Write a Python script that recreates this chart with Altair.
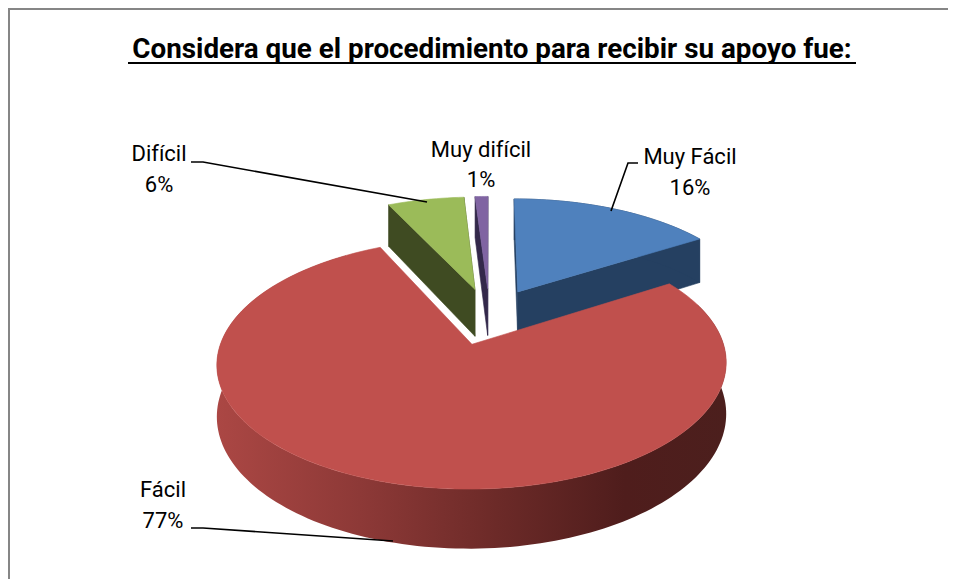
import math
import altair as alt
import pandas as pd

categories = ["Muy Fácil", "Fácil", "Difícil", "Muy difícil"]
shares = [16, 77, 6, 1]
labels_pct = ["16%", "77%", "6%", "1%"]
title_text = "Considera que el procedimiento para recibir su apoyo fue:"
caption_text = "Considera que el procedimiento para recibir su apoyo fue:"

# view of the tilted disc (a perspective projection of the pie)
CX, CY, RX, RY, PERSP, EXPLODE, DEPTH = 489.5, 316.0, 242.5, 113.6, 0.15, 0.25, 48.5
X_DOM = [8, 948]
Y_DOM = [579, 8]
FONT = "Roboto"

total = sum(shares)
spans = {}
a0 = 0.0
for c, s in zip(categories, shares):
    spans[c] = (a0, a0 + s / total * 360.0)
    a0 += s / total * 360.0


def project(cat, deg, radius=1.0, down=0.0):
    start, end = spans[cat]
    b = math.radians((start + end) / 2)
    t = math.radians(deg)
    u = radius * math.sin(t) + EXPLODE * math.sin(b)
    v = radius * math.cos(t) + EXPLODE * math.cos(b)
    w = 1 + PERSP * v
    return CX + RX * u / w, CY - RY * v / w + down / w


def arc(cat, down=0.0, reverse=False, a=None, b=None):
    s, e = spans[cat]
    s = s if a is None else a
    e = e if b is None else b
    n = max(4, int((e - s) / 1.5))
    degs = [s + (e - s) * i / n for i in range(n + 1)]
    if reverse:
        degs = degs[::-1]
    return [project(cat, d, 1.0, down) for d in degs]


x_scale = alt.Scale(domain=X_DOM, nice=False, zero=False)
y_scale = alt.Scale(domain=Y_DOM, nice=False, zero=False)


def polygon(points, fill, sw=0.6, stroke=None):
    df = pd.DataFrame({"x": [p[0] for p in points], "y": [p[1] for p in points],
                       "i": list(range(len(points)))})
    return alt.Chart(df).mark_line(
        interpolate="linear-closed", fill=fill, stroke=stroke or (fill if isinstance(fill, str) else "#6b2a28"),
        strokeWidth=sw,
    ).encode(
        x=alt.X("x:Q", scale=x_scale, axis=None),
        y=alt.Y("y:Q", scale=y_scale, axis=None),
        order=alt.Order("i:Q"),
    )


def radial_side(cat, deg, fill):
    return polygon([
        project(cat, deg, 0.0), project(cat, deg, 1.0),
        project(cat, deg, 1.0, DEPTH), project(cat, deg, 0.0, DEPTH),
    ], fill)


def top(cat, fill):
    return polygon([project(cat, 0, 0.0)] + arc(cat), fill)


def polyline(points, color="#000000", width=1.6):
    df = pd.DataFrame({"x": [p[0] for p in points], "y": [p[1] for p in points],
                       "i": list(range(len(points)))})
    return alt.Chart(df).mark_line(color=color, strokeWidth=width).encode(
        x=alt.X("x:Q", scale=x_scale, axis=None),
        y=alt.Y("y:Q", scale=y_scale, axis=None),
        order=alt.Order("i:Q"),
    )


def text(s, x, y, size, bold=False, font=FONT, align="center"):
    df = pd.DataFrame({"x": [x], "y": [y], "t": [s]})
    return alt.Chart(df).mark_text(
        font=font, fontSize=size, fontWeight="bold" if bold else "normal",
        align=align, baseline="middle", color="#000000",
    ).encode(
        x=alt.X("x:Q", scale=x_scale, axis=None),
        y=alt.Y("y:Q", scale=y_scale, axis=None),
        text="t:N",
    )


red_wall_fill = alt.Gradient(
    gradient="linear", x1=0, x2=1, y1=0, y2=0,
    stops=[
        alt.GradientStop(offset=0.0, color="#ab4744"),
        alt.GradientStop(offset=0.3, color="#8b3836"),
        alt.GradientStop(offset=0.55, color="#6c2a28"),
        alt.GradientStop(offset=0.8, color="#4f1d1c"),
        alt.GradientStop(offset=1.0, color="#4c1f1d"),
    ],
)

red = categories[1]
blue = categories[0]
green = categories[2]
purple = categories[3]

layers = [
    # blue slice
    radial_side(blue, 0, "#254061"),
    radial_side(blue, spans[blue][1], "#254061"),
    polygon(arc(blue) + arc(blue, DEPTH, True), "#254061"),
    top(blue, "#4f81bd"),
    # green slice
    radial_side(green, spans[green][1], "#3f4b22"),
    radial_side(green, spans[green][0], "#3f4b22"),
    top(green, "#9bbb59"),
    # purple slice
    radial_side(purple, spans[purple][1], "#33284a"),
    radial_side(purple, spans[purple][0], "#33284a"),
    top(purple, "#8064a2"),
    # red slice in front
    polygon(arc(red, 0, False, 70, 325) + arc(red, DEPTH, True, 70, 325), red_wall_fill, 0.0),
    top(red, "#c0504d"),
    # frame
    polyline([(9, 579), (9, 9), (948, 9)], "#868686", 2),
    # title
    text(title_text, 492, 50, 27.8, True),
    polyline([(128, 63), (856, 63)], "#000000", 2),
    text(caption_text, 52, -6, 23, False, "Liberation Sans", "left"),
    # leader lines
    polyline([(638, 163), (628, 163), (611, 211)]),
    polyline([(191, 162), (203, 162), (427, 202)]),
    polyline([(191, 528), (203, 528), (393, 541)]),
    # labels
    text(categories[0], 690, 157, 22),
    text(labels_pct[0], 690, 188, 22),
    text(categories[3], 481, 150, 22),
    text(labels_pct[3], 481, 180, 22),
    text(categories[2], 159, 154, 22),
    text(labels_pct[2], 159, 185, 22),
    text(categories[1], 163, 490, 22),
    text(labels_pct[1], 163, 521, 22),
]

chart = alt.layer(*layers).properties(
    width=940, height=571,
    autosize=alt.AutoSizeParams(type="none"),
    padding=0,
    background="#ffffff",
).configure_view(stroke=None)

chart.save("out.html", embed_options={"renderer": "svg", "actions": False})
